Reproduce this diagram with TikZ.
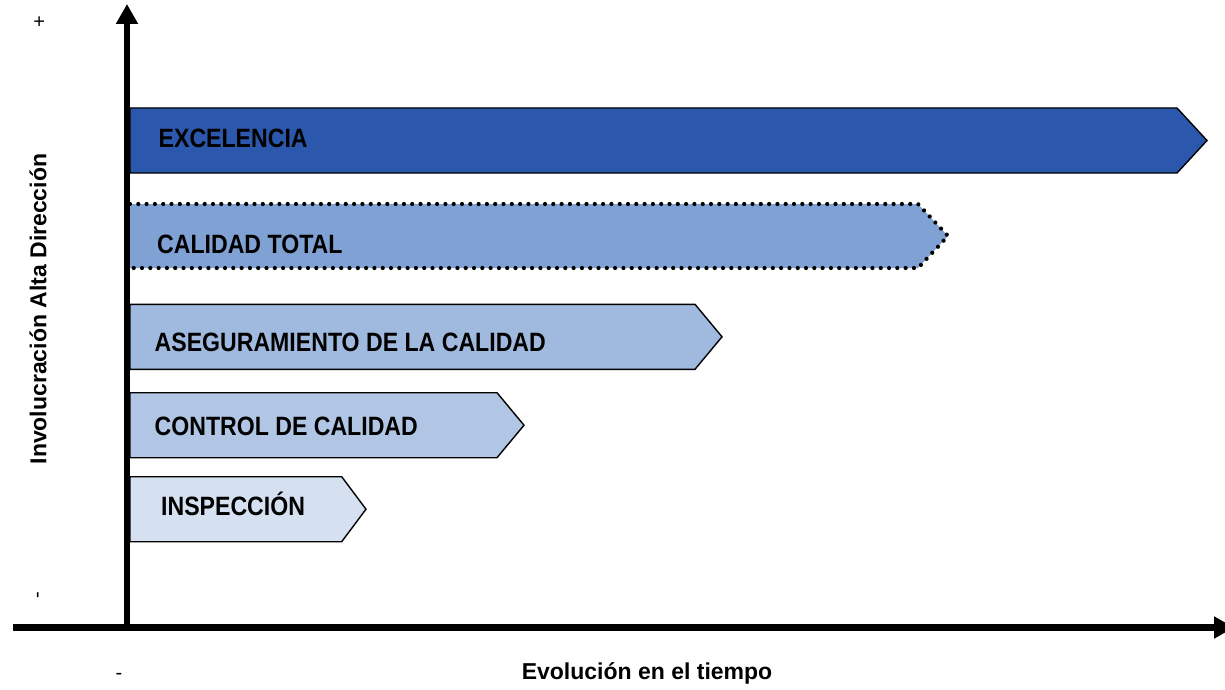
\documentclass[tikz,border=0pt]{standalone}
\usepackage{fontspec}
\setmainfont{Liberation Sans}
\newfontfamily\barfont[FakeStretch=0.872]{Liberation Sans}
\usetikzlibrary{arrows.meta}
\definecolor{cExc}{HTML}{2B58AC}
\definecolor{cTot}{HTML}{7FA1D3}
\definecolor{cAse}{HTML}{A0B9DE}
\definecolor{cCon}{HTML}{B1C6E5}
\definecolor{cIns}{HTML}{D5E0F0}
\tikzset{
  bar/.style={draw=black, line width=1.4pt, line join=miter},
  barlbl/.style={anchor=base west, inner sep=0pt, font=\barfont\bfseries\fontsize{26.5}{30}\selectfont},
  axis/.style={line width=6.5pt, -{Triangle[length=20pt,width=21pt]}},
  axlbl/.style={inner sep=0pt, font=\bfseries\fontsize{23}{26}\selectfont},
  sign/.style={inner sep=0pt, font=\fontsize{20}{22}\selectfont},
  dotborder/.style={draw=black, line width=4.2pt, line cap=round, dash pattern=on 0pt off 8.3pt}
}
\begin{document}
\begin{tikzpicture}[x=1pt,y=-1pt]
\useasboundingbox (0,0) rectangle (1225,690);
% bars
\draw[bar, fill=cExc] (130,108) -- (1177,108) -- (1207,140.5) -- (1177,173) -- (130,173) -- cycle;
\fill[cTot] (130,204) -- (918,204) -- (948,236) -- (918,268) -- (130,268) -- cycle;
\draw[dotborder] (130,204) -- (918,204) -- (948,236) -- (918,268) -- (130,268);
\draw[bar, fill=cAse] (130,304.3) -- (695,304.3) -- (722,336.8) -- (695,369.3) -- (130,369.3) -- cycle;
\draw[bar, fill=cCon] (130,392.7) -- (497,392.7) -- (524,425.2) -- (497,457.7) -- (130,457.7) -- cycle;
\draw[bar, fill=cIns] (130,476.7) -- (341.7,476.7) -- (366,509.2) -- (341.7,541.7) -- (130,541.7) -- cycle;
% labels
\node[barlbl] (exc) at (158.5,147.7) {EXCELENCIA};
\node[barlbl] (tot) at (157,253.3) {CALIDAD TOTAL};
\node[barlbl] (ase) at (154.5,351) {ASEGURAMIENTO DE LA CALIDAD};
\node[barlbl] (con) at (154.5,435) {CONTROL DE CALIDAD};
\node[barlbl] (ins) at (161,515) {INSPECCIÓN};
% axes
\coordinate (O) at (127,627.5);
\coordinate (ytip) at (127,4);
\coordinate (xstart) at (13,627.5);
\coordinate (xtip) at (1234,627.5);
\draw[axis] (127,631) -- (ytip);
\draw[axis] (xstart) -- (xtip);
% axis labels
\node[axlbl, rotate=90] (ylab) at (38,309) {Involucración Alta Dirección};
\node[axlbl] (xlab) at (647,673) {Evolución en el tiempo};
\node[sign, rotate=90] (yplus) at (40,22) {+};
\node[sign, rotate=90] (yminus) at (40,595) {-};
\node[sign] (xminus) at (119,676) {-};
\node[sign] (xplus) at (1230,676) {+};
\end{tikzpicture}
\end{document}
